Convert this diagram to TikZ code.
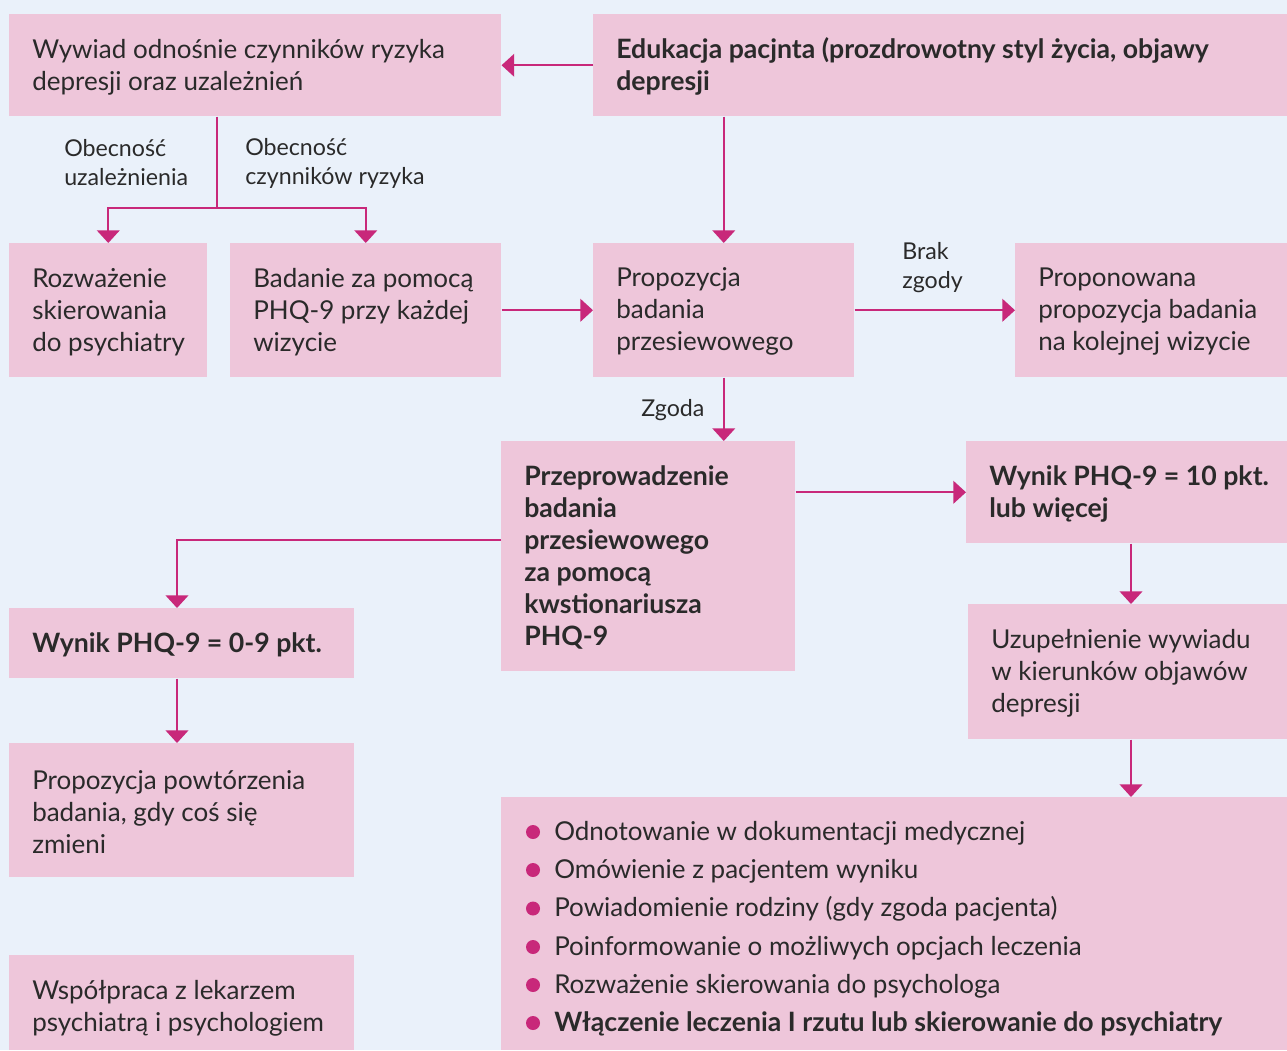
\documentclass[tikz,border=0pt]{standalone}
\usepackage{fontspec}
\setmainfont{Lato}
\usetikzlibrary{arrows.meta}
\definecolor{bgc}{HTML}{EAF1FA}
\definecolor{boxc}{HTML}{EEC6DA}
\definecolor{acc}{HTML}{C8287A}
\definecolor{txt}{HTML}{2A2A2A}
\newcommand\bodyfont{\fontsize{19.5}{24}\selectfont}
\newcommand\boldfont{\fontsize{20}{24}\selectfont\bfseries}
\tikzset{
  box/.style={fill=boxc, draw=none, anchor=north west, inner sep=0pt},
  btext/.style={anchor=west, inner sep=0pt, align=left, text=txt, font=\bodyfont, xshift=17.25pt, yshift=-1.2pt},
  bbold/.style={btext, font=\boldfont},
  lbl/.style={anchor=west, inner sep=0pt, align=left, text=txt, font=\fontsize{17.4}{21.75}\selectfont},
  arr/.style={draw=acc, line width=1.4pt, -{Triangle[width=17pt,length=9.5pt]}},
  ln/.style={draw=acc, line width=1.4pt},
  bul/.style={circle, fill=acc, inner sep=0pt, minimum size=10.5pt},
  btxt/.style={anchor=base west, inner sep=0pt, text=txt, font=\bodyfont}
}
% name, x, y, w, h (px)
\newcommand\pbox[5]{\node[box, minimum width={#4*0.75pt}, minimum height={#5*0.75pt}] (#1) at (#2,#3) {};}
\begin{document}
\begin{tikzpicture}[x=0.75pt,y=-0.75pt]
\fill[bgc] (0,0) rectangle (1287,1050);
\useasboundingbox (0,0) rectangle (1287,1050);

\pbox{wyw}{9}{14}{492}{102}
\pbox{edu}{593}{14}{694}{102}
\pbox{roz}{9}{243}{198}{134}
\pbox{bad}{230}{243}{271}{134}
\pbox{prop}{593}{243}{261}{134}
\pbox{propo}{1015}{243}{272}{134}
\pbox{prze}{501}{441}{294}{230}
\pbox{w10}{966}{441}{321}{102}
\pbox{w09}{9}{608}{345}{70}
\pbox{uzu}{968}{604}{319}{135}
\pbox{pow}{9}{743}{345}{134}
\pbox{wsp}{9}{955}{345}{95}
\pbox{lst}{501}{797}{786}{253}

\node[btext] (wywt) at (wyw.west) {Wywiad odnośnie czynników ryzyka\\depresji oraz uzależnień};
\node[bbold] (edut) at (edu.west) {Edukacja pacjnta (prozdrowotny styl życia, objawy\\depresji};
\node[btext] (rozt) at (roz.west) {Rozważenie\\skierowania\\do psychiatry};
\node[btext] (badt) at (bad.west) {Badanie za pomocą\\PHQ-9 przy każdej\\wizycie};
\node[btext] (propt) at (prop.west) {Propozycja\\badania\\przesiewowego};
\node[btext] (propot) at (propo.west) {Proponowana\\propozycja badania\\na kolejnej wizycie};
\node[bbold] (przet) at (prze.west) {Przeprowadzenie\\badania\\przesiewowego\\za pomocą\\kwstionariusza\\PHQ-9};
\node[bbold] (w10t) at (w10.west) {Wynik PHQ-9 = 10 pkt.\\lub więcej};
\node[bbold] (w09t) at (w09.west) {Wynik PHQ-9 = 0-9 pkt.};
\node[btext] (uzut) at (uzu.west) {Uzupełnienie wywiadu\\w kierunków objawów\\depresji};
\node[btext] (powt) at (pow.west) {Propozycja powtórzenia\\badania, gdy coś się\\zmieni};
\node[btext, yshift=-3pt] (wspt) at (wsp.west) {Współpraca z lekarzem\\psychiatrą i psychologiem};

\node[bul] (b1) at (533,832) {};
\node[bul] (b2) at (533,870) {};
\node[bul] (b3) at (533,908.5) {};
\node[bul] (b4) at (533,947) {};
\node[bul] (b5) at (533,985) {};
\node[bul] (b6) at (533,1023) {};
\node[btxt] (t1) at (554,840) {Odnotowanie w dokumentacji medycznej};
\node[btxt] (t2) at (554,878) {Omówienie z pacjentem wyniku};
\node[btxt] (t3) at (554,916.5) {Powiadomienie rodziny (gdy zgoda pacjenta)};
\node[btxt] (t4) at (554,955) {Poinformowanie o możliwych opcjach leczenia};
\node[btxt] (t5) at (554,993) {Rozważenie skierowania do psychologa};
\node[btxt, font=\boldfont] (t6) at (554,1031) {Włączenie leczenia I rzutu lub skierowanie do psychiatry};

\node[lbl] (l1) at (64,163) {Obecność\\uzależnienia};
\node[lbl] (l2) at (245,163) {Obecność\\czynników ryzyka};
\node[lbl] (l3) at (902,268) {Brak\\zgody};
\node[lbl] (l4) at (641,410) {Zgoda};

\coordinate (j1) at (217,208);
\coordinate (j2) at (177,540);
\coordinate (j3) at (1131,0);

\draw[arr] (edu.west) -- (wyw.east);
\draw[ln] (wyw.south -| j1) -- (j1);
\draw[arr] (j1) -| (roz.north);
\draw[arr] (j1) -| (bad.north);
\draw[arr] (edu.south -| prop.north) -- (prop.north);
\draw[arr] (bad.east) -- (prop.west);
\draw[arr] (prop.east) -- (propo.west);
\draw[arr] (prop.south) -- (prop.south |- prze.north);
\draw[arr] (prze.east |- w10.west) -- (w10.west);
\draw[arr] (prze.west |- j2) -- (j2) -- (j2 |- w09.north);
\draw[arr] (j2 |- w09.south) -- (j2 |- pow.north);
\draw[arr] (w10.south -| j3) -- (uzu.north -| j3);
\draw[arr] (uzu.south -| j3) -- (lst.north -| j3);
\end{tikzpicture}
\end{document}
